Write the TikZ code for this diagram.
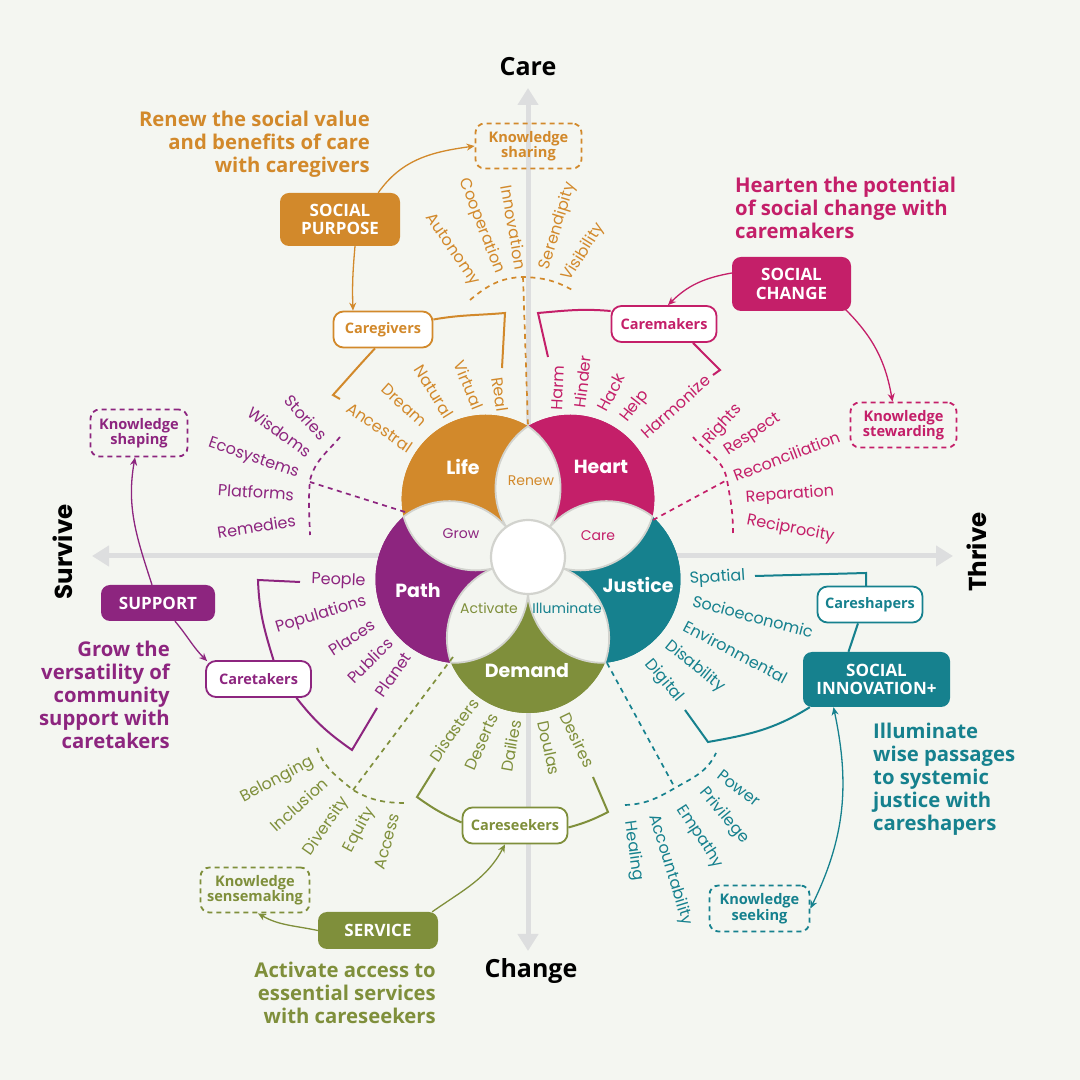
\documentclass[tikz,border=0pt]{standalone}
\usepackage{fontspec}
\usetikzlibrary{arrows.meta,calc}
\setmainfont{Open Sans}
\newfontfamily\pop{Poppins}
\newfontfamily\pts{Open Sans}
\definecolor{cOr}{HTML}{D2892B}
\definecolor{cMa}{HTML}{C41F69}
\definecolor{cTe}{HTML}{16818E}
\definecolor{cOl}{HTML}{7F8F3B}
\definecolor{cPu}{HTML}{8D257F}
\definecolor{cBg}{HTML}{F4F6F1}
\definecolor{cAx}{HTML}{DDDEDF}
\definecolor{cPe}{HTML}{D2D3CE}
\definecolor{cPf}{HTML}{F3F5F0}
\tikzset{
 word/.style={font=\pop\fontsize{16}{16}\selectfont, inner sep=0pt},
 head/.style={font=\pts\bfseries\fontsize{20.3}{23}\selectfont, inner sep=0pt},
 fbox/.style={rounded corners=9pt, text=white, font=\pts\bfseries\fontsize{17}{18.5}\selectfont, align=center, inner sep=0pt},
 wbox/.style={draw, fill=white, line width=1.8pt, rounded corners=10pt, font=\pts\bfseries\fontsize{14.5}{16}\selectfont, inner sep=0pt, minimum width=105pt, minimum height=36pt},
 kbox/.style={draw, line width=1.8pt, dash pattern=on 5pt off 4pt, rounded corners=9pt, font=\pts\bfseries\fontsize{14.6}{15.5}\selectfont, align=center, inner sep=0pt},
 brk/.style={line width=2pt},
 dsh/.style={line width=1.7pt, dash pattern=on 5pt off 4.5pt},
 arr/.style={line width=1.3pt, -{Stealth[length=8pt,width=7pt]}},
 axisln/.style={draw=cAx, line width=5pt, {Triangle[length=17pt,width=20pt]}-{Triangle[length=17pt,width=20pt]}},
 petal/.style={fill=cPf, draw=cPe, line width=1.8pt},
 clab/.style={text=white, font=\pop\bfseries\fontsize{19}{19}\selectfont, inner sep=0pt},
 plab/.style={font=\pop\fontsize{14}{14}\selectfont, inner sep=0pt},
 axl/.style={font=\pts\bfseries\fontsize{25}{25}\selectfont, inner sep=0pt},
 axr/.style={font=\pop\bfseries\fontsize{24.5}{24.5}\selectfont, inner sep=0pt, rotate=90},
}
\begin{document}
\begin{tikzpicture}[x=1pt,y=1pt]
\fill[cBg] (0,0) rectangle (1080,1080);
\useasboundingbox (0,0) rectangle (1080,1080);

% axes
\coordinate (axT) at (528,992);
\coordinate (axB) at (528,129);
\coordinate (axL) at (92,524);
\coordinate (axR) at (953,524);
\draw[axisln] (axB) -- (axT);
\draw[axisln] (axL) -- (axR);
\node[axl] (lCare) at (528,1013) {Care};
\node[axl] (lChange) at (531,109) {Change};
\node[axr] (lSurv) at (63,528) {Survive};
\node[axr] (lThr) at (977,528) {Thrive};

% flower
\begin{scope}[shift={(528,523)}]
\fill[cOr] (126:72) circle[radius=84];
\fill[cMa] (54:72) circle[radius=84];
\fill[cTe] (-18:72) circle[radius=84];
\fill[cOl] (270:72) circle[radius=84];
\fill[cPu] (198:72) circle[radius=84];
\foreach \a/\c in {126/cOr,54/cMa,-18/cTe,270/cOl,198/cPu}{
  \begin{scope}
    \clip (0,0) -- ({\a-36}:200) arc[start angle={\a-36}, end angle={\a+36}, radius=200] -- cycle;
    \fill[\c] (\a:72) circle[radius=84];
  \end{scope}
}
\foreach \a in {90,18,-54,-126,162}{
  \filldraw[petal, rotate=\a] (6.7,0) arc[start angle=145.3, end angle=34.7, radius=75.5]
     arc[start angle=-34.7, end angle=-145.3, radius=75.5] -- cycle;
}
\filldraw[fill=white, draw=cPe, line width=2.2pt] (0,0) circle[radius=37];
\end{scope}
\node[clab] (fLife) at (463,613) {Life};
\node[clab] (fHeart) at (601,613) {Heart};
\node[clab] (fJust) at (638,495) {Justice};
\node[clab] (fDem) at (527,409) {Demand};
\node[clab] (fPath) at (418,489) {Path};
\node[plab, text=cOr] (pRenew) at (531,599) {Renew};
\node[plab, text=cMa] (pCare) at (598,544) {Care};
\node[plab, text=cTe] (pIllu) at (567,472) {Illuminate};
\node[plab, text=cOl] (pAct) at (489,472) {Activate};
\node[plab, text=cPu] (pGrow) at (461,546) {Grow};

% dashed connectors
\draw[dsh, cOr] (470,780) to[out=40,in=182] (523,803) to[out=-2,in=150] (574,789);
\draw[dsh, cOr] (523,803) -- (528,654);
\draw[dsh, cMa] (693,643) to[out=-50,in=100] (727,600) to[out=-80,in=90] (733,547);
\draw[dsh, cMa] (653,560) -- (727,600);
\draw[dsh, cPu] (340,643) to[out=-130,in=75] (310,600) to[out=-95,in=92] (310,545);
\draw[dsh, cPu] (405,568) -- (310,598);
\draw[dsh, cOl] (317,332) to[out=-70,in=140] (353,290) to[out=-30,in=180] (407,277);
\draw[dsh, cOl] (453,423) -- (353,290);
\draw[dsh, cTe] (625,275) to[out=2,in=-150] (675,292) to[out=30,in=-115] (716,327);
\draw[dsh, cTe] (607,417) -- (675,292);

% headings
\node[head, text=cOr, align=right, anchor=east] (hOr) at (370,936) {Renew the social value\\and benefits of care\\with caregivers};
\node[head, text=cMa, align=left, anchor=west] (hMa) at (735,872) {Hearten the potential\\of social change with\\caremakers};
\node[head, text=cPu, align=right, anchor=east] (hPu) at (170,385) {Grow the\\versatility of\\community\\support with\\caretakers};
\node[head, text=cOl, align=right, anchor=east] (hOl) at (436,87) {Activate access to\\essential services\\with careseekers};
\node[head, text=cTe, align=left, anchor=west] (hTe) at (873,301) {Illuminate\\wise passages\\to systemic\\justice with\\careshapers};

% filled boxes
\node[fbox, fill=cOr, minimum width=120pt, minimum height=53pt] (sp) at (340,860.5) {SOCIAL\\PURPOSE};
\node[fbox, fill=cMa, minimum width=119pt, minimum height=54pt] (sc) at (791.5,796) {SOCIAL\\CHANGE};
\node[fbox, fill=cPu, minimum width=114pt, minimum height=36pt] (su) at (158,477) {SUPPORT};
\node[fbox, fill=cOl, minimum width=120pt, minimum height=37pt] (se) at (378,149.5) {SERVICE};
\node[fbox, fill=cTe, minimum width=147pt, minimum height=55pt] (si) at (876.5,400.5) {SOCIAL\\INNOVATION+};

% white boxes
\node[wbox, draw=cOr, text=cOr, minimum width=99pt] (cg) at (383,750.5) {Caregivers};
\node[wbox, draw=cMa, text=cMa] (cm) at (664,756) {Caremakers};
\node[wbox, draw=cPu, text=cPu] (ct) at (258.5,401) {Caretakers};
\node[wbox, draw=cOl, text=cOl] (cs) at (515,254.5) {Careseekers};
\node[wbox, draw=cTe, text=cTe] (csh) at (870,475.5) {Careshapers};

% knowledge boxes
\node[kbox, draw=cOr, text=cOr, minimum width=106pt, minimum height=45pt] (ksh) at (528.5,934) {Knowledge\\sharing};
\node[kbox, draw=cMa, text=cMa, minimum width=106pt, minimum height=45pt] (kst) at (903.5,655) {Knowledge\\stewarding};
\node[kbox, draw=cPu, text=cPu, minimum width=97pt, minimum height=47pt] (ksp) at (139,647) {Knowledge\\shaping};
\node[kbox, draw=cOl, text=cOl, minimum width=109pt, minimum height=45pt] (ksm) at (255,190) {Knowledge\\sensemaking};
\node[kbox, draw=cTe, text=cTe, minimum width=100pt, minimum height=46pt] (kse) at (759.5,171.5) {Knowledge\\seeking};

% arrows
\draw[arr, cOr] ([xshift=-22pt]sp.north east) to[out=55,in=188] (ksh.west);
\draw[arr, cOr] ([xshift=15pt]sp.south) to[out=-95,in=92] ([xshift=-30pt]cg.north);
\draw[arr, cMa] ([yshift=11pt]sc.west) to[out=190,in=45] ([xshift=4pt]cm.north);
\draw[arr, cMa] ([xshift=-6pt,yshift=2pt]sc.south east) to[out=-45,in=100] ([xshift=-11pt]kst.north);
\draw[arr, cPu] ([xshift=-6pt]su.north) to[out=108,in=-100] ([xshift=-4pt]ksp.south);
\draw[arr, cPu] ([xshift=17pt]su.south) to[out=-50,in=135] ([xshift=2pt,yshift=-1pt]ct.north west);
\draw[arr, cOl] (se.west) to[out=168,in=-30] ([xshift=3pt]ksm.south);
\draw[arr, cOl] ([xshift=-6pt]se.north east) to[out=35,in=-118] ([xshift=-10pt]cs.south);
\draw[line width=1.3pt, cTe, {Stealth[length=8pt,width=7pt]}-{Stealth[length=8pt,width=7pt]}] ([xshift=-43pt]si.south) to[out=-78,in=64] (kse.east);

% brackets
\draw[brk, cOr] ([yshift=10pt]cg.east) to[out=10,in=185] (505,767) -- (502,712);
\draw[brk, cOr] ([xshift=-8pt]cg.south) to[out=-133,in=48] (333,685) -- (340,681);
\draw[brk, cMa] ([yshift=13pt]cm.west) to[out=175,in=5] (538,767) -- (548,723);
\draw[brk, cMa] ([xshift=29pt]cm.south) -- (720,710) -- (713,705);
\draw[brk, cPu] (300,498) -- (258,500) to[out=-88,in=107] ([xshift=15pt]ct.north);
\draw[brk, cPu] ([xshift=38pt]ct.south) to[out=-52,in=145] (352,330) -- (377,372);
\draw[brk, cOl] ([yshift=3pt]cs.west) to[bend left=6] (417,283) -- (435,312);
\draw[brk, cOl] ([yshift=-2pt]cs.east) to[bend right=6] (608,268) -- (593,303);
\draw[brk, cTe] (755,504) -- (866,507) -- (866,494);
\draw[brk, cTe] ([xshift=-12pt]csh.south) -- ([xshift=-28pt]si.north);
\draw[brk, cTe] ([xshift=7pt]si.south west) to[out=-148,in=10] (708,338) -- (685,370);

% words: knowledge sharing group
\node[word, text=cOr, rotate=-56] (w1) at (452,830) {Autonomy};
\node[word, text=cOr, rotate=-69] (w2) at (481.5,854) {Cooperation};
\node[word, text=cOr, rotate=-80] (w3) at (514,852.5) {Innovation};
\node[word, text=cOr, rotate=73] (w4) at (558,854) {Serendipity};
\node[word, text=cOr, rotate=58] (w5) at (583.5,827.5) {Visibility};
% caregivers group
\node[word, text=cOr, rotate=-34] (w6) at (380,652.5) {Ancestral};
\node[word, text=cOr, rotate=-42] (w7) at (404,675) {Dream};
\node[word, text=cOr, rotate=-58] (w8) at (434,688.5) {Natural};
\node[word, text=cOr, rotate=-68] (w9) at (468.5,695) {Virtual};
\node[word, text=cOr, rotate=-82] (w10) at (500,685.5) {Real};
% caremakers group
\node[word, text=cMa, rotate=87] (w11) at (558,692) {Harm};
\node[word, text=cMa, rotate=83] (w12) at (582.5,698.5) {Hinder};
\node[word, text=cMa, rotate=62] (w13) at (611,687.5) {Hack};
\node[word, text=cMa, rotate=52] (w14) at (635,673.5) {Help};
\node[word, text=cMa, rotate=42] (w15) at (675.5,673.5) {Harmonize};
% stewarding group
\node[word, text=cMa, rotate=47] (w16) at (723,655) {Rights};
\node[word, text=cMa, rotate=34] (w17) at (753,645) {Respect};
\node[word, text=cMa, rotate=21] (w18) at (786.5,624) {Reconciliation};
\node[word, text=cMa, rotate=4] (w19) at (790,585) {Reparation};
\node[word, text=cMa, rotate=-11] (w20) at (790.5,551) {Reciprocity};
% shaping group
\node[word, text=cPu, rotate=-47] (w21) at (306,662.5) {Stories};
\node[word, text=cPu, rotate=-36] (w22) at (280,648) {Wisdoms};
\node[word, text=cPu, rotate=-19] (w23) at (253.5,621) {Ecosystems};
\node[word, text=cPu, rotate=-4] (w24) at (256,588) {Platforms};
\node[word, text=cPu, rotate=9] (w25) at (256.5,553.5) {Remedies};
% caretakers group
\node[word, text=cPu, rotate=-2] (w26) at (338.5,499) {People};
\node[word, text=cPu, rotate=17] (w27) at (321,465) {Populations};
\node[word, text=cPu, rotate=33] (w28) at (352,442.5) {Places};
\node[word, text=cPu, rotate=45] (w29) at (370,419.5) {Publics};
\node[word, text=cPu, rotate=55] (w30) at (393,405.5) {Planet};
% careseekers group
\node[word, text=cOl, rotate=55] (w31) at (454,350) {Disasters};
\node[word, text=cOl, rotate=66] (w32) at (481.5,338) {Deserts};
\node[word, text=cOl, rotate=80] (w33) at (511,334) {Dailies};
\node[word, text=cOl, rotate=-78] (w34) at (549,332) {Doulas};
\node[word, text=cOl, rotate=-64] (w35) at (577.5,340) {Desires};
% sensemaking group
\node[word, text=cOl, rotate=28] (w36) at (277,300) {Belonging};
\node[word, text=cOl, rotate=42] (w37) at (299,275.5) {Inclusion};
\node[word, text=cOl, rotate=55] (w38) at (326.5,253.5) {Diversity};
\node[word, text=cOl, rotate=62] (w39) at (359.5,250) {Equity};
\node[word, text=cOl, rotate=75] (w40) at (387,238.5) {Access};
% careshapers group
\node[word, text=cTe, rotate=4] (w41) at (717.5,502) {Spatial};
\node[word, text=cTe, rotate=-15] (w42) at (753,463.5) {Socioeconomic};
\node[word, text=cTe, rotate=-28] (w43) at (735.5,428) {Environmental};
\node[word, text=cTe, rotate=-39] (w44) at (695,413.5) {Disability};
\node[word, text=cTe, rotate=-50] (w45) at (664,399) {Digital};
% seeking group
\node[word, text=cTe, rotate=-38] (w46) at (739,292) {Power};
\node[word, text=cTe, rotate=-50] (w47) at (724,264) {Privilege};
\node[word, text=cTe, rotate=-57] (w48) at (699.5,243) {Empathy};
\node[word, text=cTe, rotate=-73] (w49) at (670.5,210) {Accountability};
\node[word, text=cTe, rotate=-82] (w50) at (633.5,229) {Healing};
\end{tikzpicture}
\end{document}
